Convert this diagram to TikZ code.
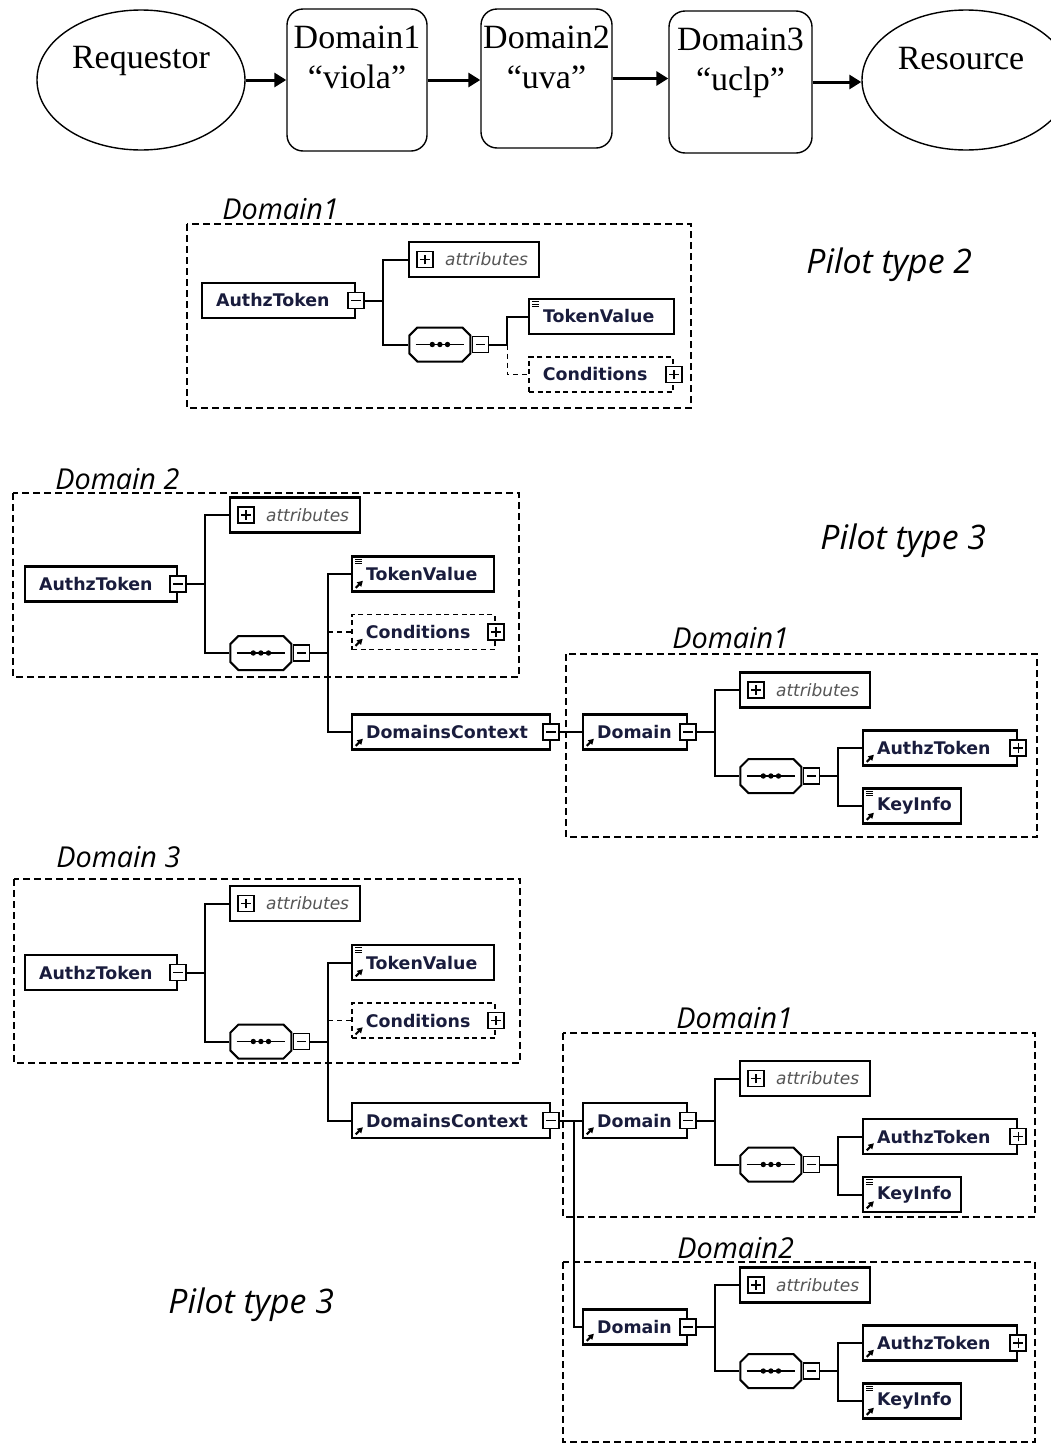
\documentclass[tikz,border=0pt]{standalone}
\usepackage{fontspec}
\setmainfont{Liberation Serif}
\newfontfamily\schemafont{DejaVu Sans}
\newfontfamily\labelfont{Open Sans}
\usetikzlibrary{arrows.meta,shapes.geometric}
\definecolor{elemtext}{RGB}{25,28,60}
\definecolor{attrgray}{RGB}{85,85,85}

\begin{document}
\begin{tikzpicture}[x=0.5pt,y=-0.5pt,
  toptext/.style={font=\fontsize{17pt}{20pt}\selectfont, align=center, inner sep=0pt},
  endpt/.style={draw, ellipse, line width=0.7pt, minimum width=104pt, minimum height=70pt},
  hopbox/.style={draw, rounded corners=8pt, line width=0.7pt},
  flow/.style={line width=1.5pt, -{Triangle[length=6pt,width=7pt]}},
  frame/.style={line width=0.8pt, dash pattern=on 3.5pt off 2pt},
  dlabel/.style={anchor=base west, inner sep=0pt, font=\labelfont\itshape\fontsize{14.4pt}{17pt}\selectfont},
  pilot/.style={anchor=base west, inner sep=0pt, font=\labelfont\itshape\fontsize{16.9pt}{20pt}\selectfont},
  elem/.style={draw, fill=white, line width=1.1pt, anchor=west, text width=#1, align=left, inner xsep=7pt, inner ysep=0pt, minimum height=17.5pt, text=elemtext, font=\schemafont\bfseries\fontsize{8.7pt}{10pt}\selectfont},
  optelem/.style={elem=#1, line width=0.9pt, dash pattern=on 2.5pt off 1.8pt},
  link/.style={line width=1pt},
  optlink/.style={line width=0.9pt, dash pattern=on 2.5pt off 2pt},
  pm/.style={draw, solid, fill=white, line width=0.8pt, minimum size=8pt, inner sep=0pt},
  minus/.style={pm, path picture={\draw[line width=0.7pt] ([xshift=1.6pt]path picture bounding box.west) -- ([xshift=-1.6pt]path picture bounding box.east);}},
  plus/.style={pm, path picture={\draw[line width=0.7pt] ([xshift=1.6pt]path picture bounding box.west) -- ([xshift=-1.6pt]path picture bounding box.east)
      ([yshift=1.6pt]path picture bounding box.south) -- ([yshift=-1.6pt]path picture bounding box.north);}},
  withref/.style={path picture={\draw[solid, black, line width=1pt, -{Triangle[length=2.8pt,width=3pt]}]
      ([xshift=1.8pt,yshift=1.8pt]path picture bounding box.south west) -- ++(3.6pt,3.6pt);}},
  withlines/.style={path picture={\foreach \k in {1.4,2.5,3.6}
      \draw[solid, line width=0.5pt] ([xshift=1.5pt,yshift=-\k pt]path picture bounding box.north west) -- ++(3.6pt,0pt);}},
  withboth/.style={path picture={\draw[solid, black, line width=1pt, -{Triangle[length=2.8pt,width=3pt]}]
      ([xshift=1.8pt,yshift=1.8pt]path picture bounding box.south west) -- ++(3.6pt,3.6pt);
      \foreach \k in {1.4,2.5,3.6}
      \draw[solid, line width=0.5pt] ([xshift=1.5pt,yshift=-\k pt]path picture bounding box.north west) -- ++(3.6pt,0pt);}},
  attrbox/.style={draw, fill=white, line width=1.1pt, anchor=west, minimum height=17.5pt, inner xsep=5.5pt, inner ysep=0pt, text width=54pt, align=right,
      text=attrgray, font=\schemafont\itshape\fontsize{8.5pt}{10pt}\selectfont,
      path picture={\draw[line width=0.8pt] ([xshift=4pt,yshift=-4pt]path picture bounding box.west) rectangle ++(8pt,8pt)
        ([xshift=5.6pt]path picture bounding box.west) -- ++(4.8pt,0pt)
        ([xshift=8pt,yshift=-2.4pt]path picture bounding box.west) -- ++(0pt,4.8pt);}},
  seqbox/.style={fill=white, anchor=west, minimum width=31.5pt, minimum height=18pt, inner sep=0pt,
      path picture={\draw[line width=1pt]
          ([xshift=0.5pt,yshift=-4.5pt]path picture bounding box.north west) -- ([xshift=4.5pt,yshift=-0.5pt]path picture bounding box.north west)
          -- ([xshift=-4.5pt,yshift=-0.5pt]path picture bounding box.north east) -- ([xshift=-0.5pt,yshift=-4.5pt]path picture bounding box.north east)
          -- ([xshift=-0.5pt,yshift=4.5pt]path picture bounding box.south east) -- ([xshift=-4.5pt,yshift=0.5pt]path picture bounding box.south east)
          -- ([xshift=4.5pt,yshift=0.5pt]path picture bounding box.south west) -- ([xshift=0.5pt,yshift=4.5pt]path picture bounding box.south west) -- cycle;
        \draw[line width=0.9pt] ([xshift=3.6pt]path picture bounding box.west) -- ([xshift=-3.6pt]path picture bounding box.east);
        \foreach \dx in {-3.8,0,3.8} \fill[black] ([xshift=\dx pt]path picture bounding box.center) circle (1.35pt);}},
  tokenpart/.pic={
    \node[elem=62pt] (-tok) at (0,0) {AuthzToken};
    \node[minus] (-tokm) at (-tok.east) {};
    \node[attrbox] (-attr) at (205,-69) {attributes};
    \node[seqbox] (-seq) at (205,69) {};
    \node[minus, anchor=west] (-seqm) at (-seq.east) {};
    \node[elem=57pt, withboth] (-val) at (327,-10) {TokenValue};
    \node[optelem=57.5pt, withref] (-cond) at (327,48) {Conditions};
    \node[plus] (-condp) at (-cond.east) {};
    \node[elem=85pt, withref] (-ctx) at (327,148) {DomainsContext};
    \node[minus] (-ctxm) at (-ctx.east) {};
    \draw[link] (-tokm.east) -- ++(18,0) coordinate (-j1) |- (-attr.west);
    \draw[link] (-j1) |- (-seq.west);
    \draw[link] (-seqm.east) -- ++(18,0) coordinate (-j2) |- (-val.west);
    \draw[link] (-j2) |- (-ctx.west);
    \draw[optlink] (-j2 |- -cond.west) -- (-cond.west);
  },
  domainpart/.pic={
    \node[elem=38pt, withref] (-dom) at (0,0) {Domain};
    \node[minus] (-domm) at (-dom.east) {};
    \node[attrbox] (-attr) at (157,-42) {attributes};
    \node[seqbox] (-seq) at (157,44) {};
    \node[minus, anchor=west] (-seqm) at (-seq.east) {};
    \node[elem=63pt, withref] (-tok) at (280,16) {AuthzToken};
    \node[plus] (-tokp) at (-tok.east) {};
    \node[elem=35pt, withboth] (-key) at (280,74) {KeyInfo};
    \draw[link] (-domm.east) -- ++(18,0) coordinate (-j1) |- (-attr.west);
    \draw[link] (-j1) |- (-seq.west);
    \draw[link] (-seqm.east) -- ++(18,0) coordinate (-j2) |- (-tok.west);
    \draw[link] (-j2) |- (-key.west);
  }]
\useasboundingbox (0,0) rectangle (1050,1446);

% delegation chain
\node[endpt] (req) at (141,80) {};
\node[toptext, anchor=base] (reqt) at ([yshift=5.85pt]req.center) {Requestor};
\node[hopbox, minimum width=70pt, minimum height=71pt] (d1) at (357,80) {};
\node[toptext, anchor=north] (d1t) at ([yshift=-8.75pt]d1.north) {Domain1\\“viola”};
\node[hopbox, minimum width=65.5pt, minimum height=69.5pt] (d2) at (546.5,78.5) {};
\node[toptext, anchor=north] (d2t) at ([yshift=-8.75pt]d2.north) {Domain2\\“uva”};
\node[hopbox, minimum width=71.5pt, minimum height=71pt] (d3) at (740.5,82) {};
\node[toptext, anchor=north] (d3t) at ([yshift=-8.75pt]d3.north) {Domain3\\“uclp”};
\node[endpt] (res) at (966,80) {};
\node[toptext, anchor=base] (rest) at ([xshift=-2.5pt,yshift=5.35pt]res.center) {Resource};
\draw[flow] (req) -- (d1);
\draw[flow] (d1.east) -- (d1.east -| d2.west);
\draw[flow] (d2.east) -- (d2.east -| d3.west);
\draw[flow] (d3.east) -- (d3.east -| res.west);

% dashed domain frames
\draw[frame] (187,224) rectangle (691,408);
\draw[frame] (13,493) rectangle (519,677);
\draw[frame] (566,654) rectangle (1037,837);
\draw[frame] (14,879) rectangle (520,1063);
\draw[frame] (563,1033) rectangle (1035,1217);
\draw[frame] (563,1262) rectangle (1035,1442);
\node[dlabel] (lab1) at (222,219) {Domain1};
\node[dlabel] (lab2) at (55,489) {Domain 2};
\node[dlabel] (lab21) at (672,648) {Domain1};
\node[dlabel] (lab3) at (56,867) {Domain 3};
\node[dlabel] (lab31) at (676,1028) {Domain1};
\node[dlabel] (lab32) at (677,1258) {Domain2};
\node[pilot] (pt2) at (806,273) {Pilot type 2};
\node[pilot] (pt3a) at (820,549) {Pilot type 3};
\node[pilot] (pt3b) at (168,1313) {Pilot type 3};

% pilot type 2
\node[elem=62.5pt] (b1tok) at (201,300.5) {AuthzToken};
\node[minus] (b1tokm) at (b1tok.east) {};
\node[attrbox] (b1attr) at (408,259.5) {attributes};
\node[seqbox] (b1seq) at (408,344.5) {};
\node[minus, anchor=west] (b1seqm) at (b1seq.east) {};
\node[elem=58.5pt, withlines] (b1val) at (528,316.5) {TokenValue};
\node[optelem=58pt] (b1cond) at (528,374.5) {Conditions};
\node[plus] (b1condp) at (b1cond.east) {};
\draw[link] (b1tokm.east) -- ++(18,0) coordinate (b1j) |- (b1attr.west);
\draw[link] (b1j) |- (b1seq.west);
\draw[link] (b1seqm.east) -- ++(18,0) coordinate (b1k) |- (b1val.west);
\draw[optlink] (b1k) |- (b1cond.west);

% pilot type 3, two domains
\pic (b2) at (24,584) {tokenpart};
\pic (b2d) at (582,732) {domainpart};
\draw[link] (b2-ctxm.east) -- (b2d-dom.west);

% pilot type 3, three domains
\pic (b3) at (24,972.5) {tokenpart};
\pic (b3d1) at (582,1120.5) {domainpart};
\pic (b3d2) at (582,1327) {domainpart};
\draw[link] (b3-ctxm.east) -- ++(14,0) coordinate (b3j) -- (b3d1-dom.west);
\draw[link] (b3j) |- (b3d2-dom.west);
\end{tikzpicture}
\end{document}
